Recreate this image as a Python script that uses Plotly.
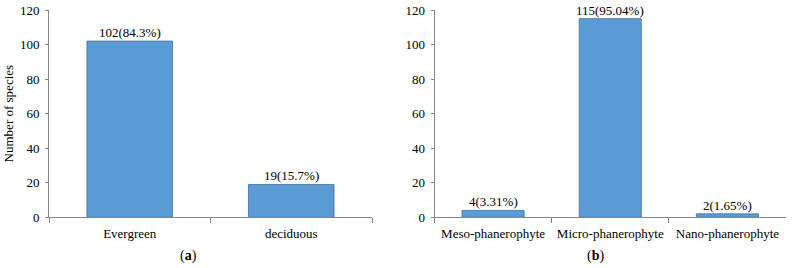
import plotly.graph_objects as go

cats_a = ["Evergreen", "deciduous"]
vals_a = [102, 19]
labels_a = ["102(84.3%)", "19(15.7%)"]

cats_b = ["Meso-phanerophyte", "Micro-phanerophyte", "Nano-phanerophyte"]
vals_b = [4, 115, 2]
labels_b = ["4(3.31%)", "115(95.04%)", "2(1.65%)"]

y_ticks = [0, 20, 40, 60, 80, 100, 120]

FONT = "Liberation Serif"
BAR = "#5B9BD5"
EDGE = "#41719C"
AXC = "#868686"

fig = go.Figure()
fig.add_trace(go.Bar(x=cats_a, y=vals_a,
                     marker=dict(color=BAR, line=dict(color=EDGE, width=0.8)),
                     xaxis="x", yaxis="y", showlegend=False))
fig.add_trace(go.Bar(x=cats_b, y=vals_b,
                     marker=dict(color=BAR, line=dict(color=EDGE, width=0.8)),
                     xaxis="x2", yaxis="y2", showlegend=False))

annotations = []
for c, v, t in zip(cats_a, vals_a, labels_a):
    annotations.append(dict(x=c, y=v, text=t, xref="x", yref="y", showarrow=False,
                            yanchor="bottom", yshift=-1,
                            font=dict(family=FONT, size=13, color="#000")))
for c, v, t in zip(cats_b, vals_b, labels_b):
    annotations.append(dict(x=c, y=v, text=t, xref="x2", yref="y2", showarrow=False,
                            yanchor="bottom", yshift=-1,
                            font=dict(family=FONT, size=13, color="#000")))

W, H = 792, 268
annotations += [
    dict(text="(<b>a</b>)", x=188.5 / W, y=1 - 255.5 / H,
         xref="paper", yref="paper", showarrow=False, xanchor="center", yanchor="middle",
         font=dict(family=FONT, size=14, color="#000")),
    dict(text="(<b>b</b>)", x=595.6 / W, y=1 - 255.5 / H,
         xref="paper", yref="paper", showarrow=False, xanchor="center", yanchor="middle",
         font=dict(family=FONT, size=14, color="#000")),
]

ydom = [1 - 217.3 / H, 1 - 10 / H]
xcommon = dict(showline=True, linecolor=AXC, linewidth=1, ticks="outside",
               tickson="boundaries", ticklen=5, tickcolor=AXC, automargin=False,
               ticklabelstandoff=4,
               tickfont=dict(family=FONT, size=13, color="#000"), showgrid=False,
               zeroline=False, fixedrange=True)
ycommon = dict(range=[0, 120], tickvals=y_ticks, showline=True, linecolor=AXC,
               linewidth=1, ticks="outside", ticklen=3, tickcolor=AXC, automargin=False,
               ticklabelstandoff=3,
               tickfont=dict(family=FONT, size=13, color="#000"), showgrid=False,
               zeroline=False, domain=ydom, fixedrange=True)

fig.update_layout(
    width=W, height=H, margin=dict(l=0, r=0, t=0, b=0, autoexpand=False),
    paper_bgcolor="white", plot_bgcolor="white",
    bargap=0.47,
    font=dict(family=FONT, size=13, color="#000"),
    xaxis=dict(domain=[49 / W, 372 / W], anchor="y", **xcommon),
    yaxis=dict(anchor="x", title=dict(text="Number of species",
               font=dict(family=FONT, size=13, color="#000"), standoff=3), **ycommon),
    xaxis2=dict(domain=[434.5 / W, 786 / W], anchor="y2", **xcommon),
    yaxis2=dict(anchor="x2", **ycommon),
    annotations=annotations,
)

fig.write_html("out.html")
